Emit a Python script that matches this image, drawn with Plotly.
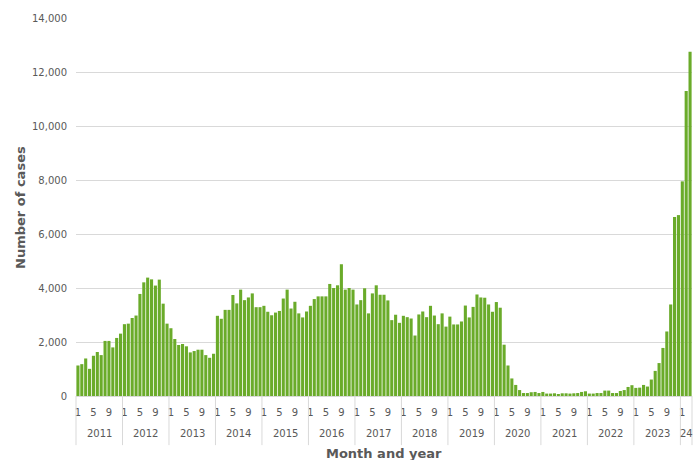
import plotly.graph_objects as go

years = [2011, 2012, 2013, 2014, 2015, 2016, 2017, 2018, 2019, 2020, 2021, 2022, 2023, 2024]
year_labels = ["2011", "2012", "2013", "2014", "2015", "2016", "2017", "2018", "2019",
               "2020", "2021", "2022", "2023", "24"]
months_per_year = [12] * 13 + [3]
shown_months = [1, 5, 9]

cases_2011 = [1130, 1180, 1390, 1006, 1490, 1630, 1515, 2040, 2040, 1800, 2150, 2310]
cases_2012 = [2660, 2680, 2890, 2980, 3780, 4210, 4385, 4320, 4090, 4310, 3420, 2680]
cases_2013 = [2510, 2110, 1890, 1925, 1840, 1615, 1665, 1715, 1715, 1515, 1415, 1565]
cases_2014 = [2970, 2860, 3190, 3190, 3740, 3430, 3940, 3550, 3650, 3800, 3290, 3290]
cases_2015 = [3340, 3120, 2990, 3090, 3150, 3610, 3940, 3240, 3490, 3060, 2910, 3130]
cases_2016 = [3340, 3590, 3690, 3690, 3690, 4150, 4000, 4100, 4880, 3940, 4000, 3940]
cases_2017 = [3390, 3550, 3990, 3060, 3800, 4100, 3750, 3750, 3540, 2810, 3010, 2710]
cases_2018 = [2970, 2920, 2870, 2240, 3020, 3130, 2920, 3340, 2980, 2660, 3060, 2570]
cases_2019 = [2940, 2650, 2650, 2760, 3350, 2910, 3300, 3760, 3650, 3640, 3390, 3120]
cases_2020 = [3480, 3270, 1900, 1130, 650, 410, 220, 110, 110, 140, 150, 110]
cases_2021 = [150, 90, 90, 100, 60, 100, 100, 90, 100, 110, 150, 175]
cases_2022 = [90, 90, 110, 110, 200, 200, 110, 110, 185, 220, 335, 400]
cases_2023 = [300, 310, 410, 350, 610, 930, 1220, 1780, 2390, 3390, 6630, 6700]
cases_2024 = [7950, 11300, 12750]

cases_by_year = [cases_2011, cases_2012, cases_2013, cases_2014, cases_2015, cases_2016,
                 cases_2017, cases_2018, cases_2019, cases_2020, cases_2021, cases_2022,
                 cases_2023, cases_2024]

y_ticks = [0, 2000, 4000, 6000, 8000, 10000, 12000, 14000]

# Build flat series
x_idx, y_vals, month_of = [], [], []
for yr_cases in cases_by_year:
    for m, v in enumerate(yr_cases, start=1):
        x_idx.append(len(x_idx))
        y_vals.append(v)
        month_of.append(m)
n = len(x_idx)

TEXT = "#595959"
GRID = "#d9d9d9"
FONT = "DejaVu Sans, Verdana, sans-serif"

fig = go.Figure(go.Bar(
    x=x_idx, y=y_vals,
    marker=dict(color="#6aab2a", line=dict(width=0)),
    hovertemplate="%{y:,}<extra></extra>",
))

tickvals = [i for i in x_idx if month_of[i] in shown_months]
ticktext = [str(month_of[i]) for i in tickvals]

shapes = []
annotations = []
start = 0
sep_depth = -0.13
for label, cnt in zip(year_labels, months_per_year):
    shapes.append(dict(type="line", xref="paper", yref="paper",
                       x0=start / n, x1=start / n, y0=0, y1=sep_depth,
                       line=dict(color=GRID, width=1)))
    annotations.append(dict(xref="paper", yref="paper", x=(start + cnt / 2) / n, y=-0.1,
                            text=label, showarrow=False, yanchor="middle", xanchor="center",
                            font=dict(family=FONT, size=10, color=TEXT)))
    start += cnt
shapes.append(dict(type="line", xref="paper", yref="paper",
                   x0=1, x1=1, y0=0, y1=sep_depth, line=dict(color=GRID, width=1)))

annotations.append(dict(xref="paper", yref="paper", x=0.5, y=-0.153, text="<b>Month and year</b>",
                        showarrow=False, xanchor="center", yanchor="middle",
                        font=dict(family=FONT, size=13, color=TEXT)))
annotations.append(dict(xref="paper", yref="paper", x=-0.091, y=0.5, text="<b>Number of cases</b>",
                        showarrow=False, xanchor="center", yanchor="middle", textangle=-90,
                        font=dict(family=FONT, size=13, color=TEXT)))

fig.update_layout(
    width=694, height=460,
    margin=dict(l=76, r=2, t=18, b=64),
    paper_bgcolor="white", plot_bgcolor="white",
    bargap=0.2, showlegend=False,
    font=dict(family=FONT, size=10, color=TEXT),
    shapes=shapes, annotations=annotations,
    xaxis=dict(range=[-0.5, n - 0.5], tickmode="array", tickvals=tickvals, ticktext=ticktext,
               showgrid=False, zeroline=False, showline=True, linecolor=GRID, linewidth=1,
               ticks="", ticklabelstandoff=7,
               tickfont=dict(family=FONT, size=10, color=TEXT), fixedrange=True),
    yaxis=dict(range=[0, 14000], tickmode="array", tickvals=y_ticks,
               ticktext=[f"{v:,}" for v in y_ticks],
               showgrid=True, gridcolor=GRID, gridwidth=1, zeroline=False, showline=False,
               ticks="", ticklabelstandoff=8,
               tickfont=dict(family=FONT, size=10, color=TEXT)),
)

fig.write_html("out.html", config={"displayModeBar": False},
               post_script="document.body.style.margin='0';")
